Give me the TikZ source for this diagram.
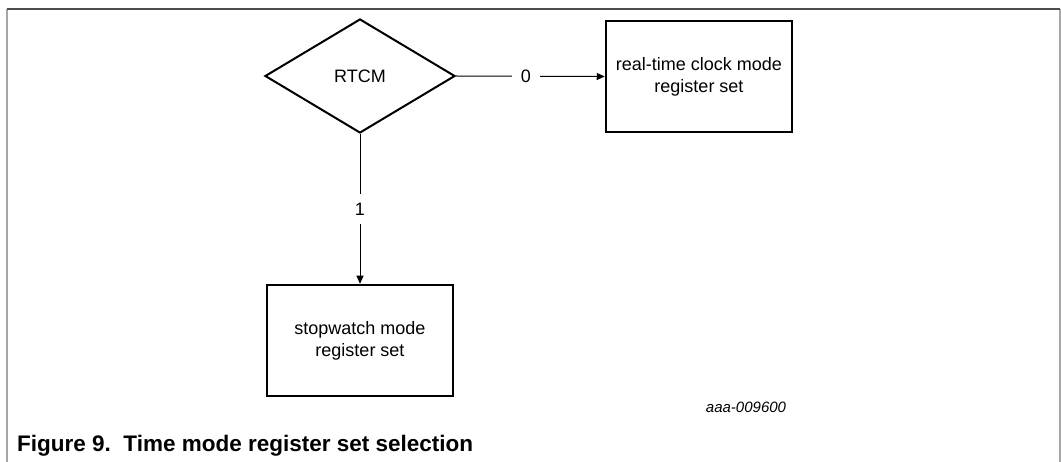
\documentclass[tikz,border=0pt]{standalone}
\usepackage{fontspec}
\setmainfont{Liberation Sans}
\usetikzlibrary{shapes.geometric,arrows.meta}

\definecolor{framedark}{HTML}{4D4D4D}
\definecolor{framelight}{HTML}{A6A6A6}

\tikzset{
	decision/.style={diamond, draw, line width=2pt, minimum width=190pt, minimum height=114pt, inner sep=0pt, font=\fontsize{18}{21}\selectfont},
	regbox/.style={rectangle, draw, line width=2.5pt, minimum width=186pt, minimum height=111pt, align=center, font=\fontsize{18}{22}\selectfont},
	flow/.style={line width=1pt, -{Triangle[length=8pt,width=7pt]}},
	branch/.style={fill=white, font=\fontsize{18}{21}\selectfont}
}

\begin{document}
\begin{tikzpicture}[x=1pt, y=-1pt]
	\useasboundingbox (0,0) rectangle (1061,462);

	% Figure frame
	\draw[framelight, line width=1.5pt] (7,9) -- (7,462);
	\draw[framelight, line width=1.5pt] (1060,9) -- (1060,462);
	\draw[framedark, line width=1.5pt] (7,9) -- (1060,9);

	% Decision and register sets
	\node[decision] (rtcm) at (360,76) {RTCM};
	\node[regbox] (rtcset) at (699,76.5) {real-time clock mode\\register set};
	\node[regbox] (swset) at (360,340.5) {stopwatch mode\\register set};

	% Branches
	\draw[flow] (rtcm.east) -- (rtcset.west) node[branch, pos=0.47, inner xsep=9pt, inner ysep=2pt] {0};
	\draw[flow] (rtcm.south) -- (swset.north) node[branch, pos=0.5, inner xsep=2pt, inner ysep=9pt] {1};

	% Figure id and caption
	\node[font=\fontsize{15}{18}\selectfont\itshape] (figid) at (746,407) {aaa-009600};
	\node[anchor=west, inner sep=0pt, font=\fontsize{22.5}{26}\selectfont\bfseries] (caption) at (17,446) {Figure 9.\ \ Time mode register set selection};
\end{tikzpicture}
\end{document}
